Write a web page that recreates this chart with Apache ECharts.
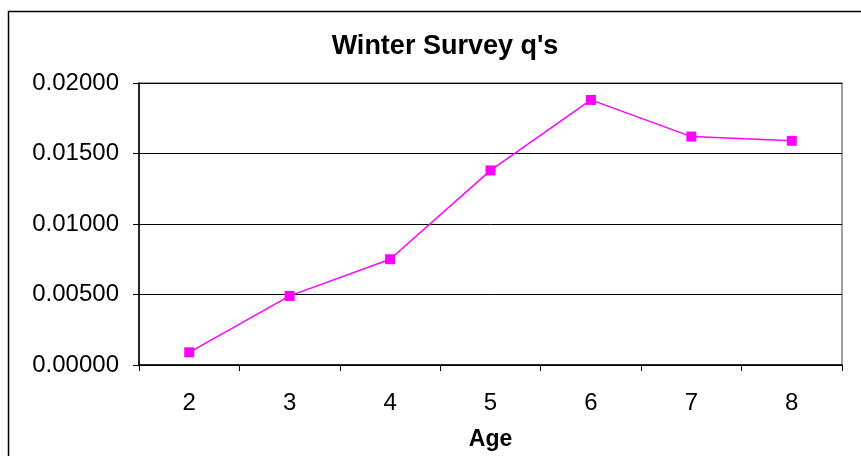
<!DOCTYPE html>
<html>
<head>
<meta charset="utf-8">
<script src="https://cdn.jsdelivr.net/npm/echarts@6/dist/echarts.min.js"></script>
<style>
html,body{margin:0;padding:0;background:#fff;}
#c{width:861px;height:456px;}
</style>
</head>
<body>
<div id="c"></div>
<script>
const categories = ['2','3','4','5','6','7','8'];
const values = [0.0009, 0.0049, 0.0075, 0.0138, 0.0188, 0.0162, 0.0159];
const yTicks = [0, 0.005, 0.01, 0.015, 0.02];

const chart = echarts.init(document.getElementById('c'), null, {renderer:'canvas'});
const font = '"Liberation Sans", Arial, sans-serif';
chart.setOption({
  animation:false,
  backgroundColor:'#fff',
  graphic:[{
    type:'rect', silent:true, z:-10,
    shape:{x:8.5,y:11.5,width:900,height:500},
    style:{fill:'none',stroke:'#000',lineWidth:1.5}
  }],
  title:{
    text:"Winter Survey q's", left:440, top:28, textAlign:'center',
    textStyle:{fontFamily:font,fontSize:27,fontWeight:'bold',color:'#000'}
  },
  grid:{left:139,right:19,top:83,bottom:91,containLabel:false,outerBoundsMode:'none',
    show:true,borderColor:'#808080',borderWidth:1.5,backgroundColor:'#fff'},
  xAxis:{
    type:'category', data:categories, boundaryGap:true,
    name:'Age', nameLocation:'middle', nameGap:63,
    nameTextStyle:{fontFamily:font,fontSize:23,fontWeight:'bold',color:'#000'},
    axisLine:{lineStyle:{color:'#000',width:1.5}},
    axisTick:{show:true,length:6,inside:false,lineStyle:{color:'#000'}},
    axisLabel:{fontFamily:font,fontSize:24,color:'#000',margin:26},
    splitLine:{show:false}
  },
  yAxis:{
    type:'value', min:0, max:0.02, interval:0.005,
    axisLine:{show:true,lineStyle:{color:'#000',width:1.5}},
    axisTick:{show:true,length:6,lineStyle:{color:'#000'}},
    axisLabel:{fontFamily:font,fontSize:24,color:'#000',margin:20,
      formatter:v=>v.toFixed(5)},
    splitLine:{show:true,lineStyle:{color:'#000',width:1}}
  },
  series:[{
    type:'line', data:values,
    symbol:'rect', symbolSize:10,
    itemStyle:{color:'#FF00FF'},
    lineStyle:{color:'#FF00FF',width:1.5}
  }]
});
</script>
</body>
</html>
